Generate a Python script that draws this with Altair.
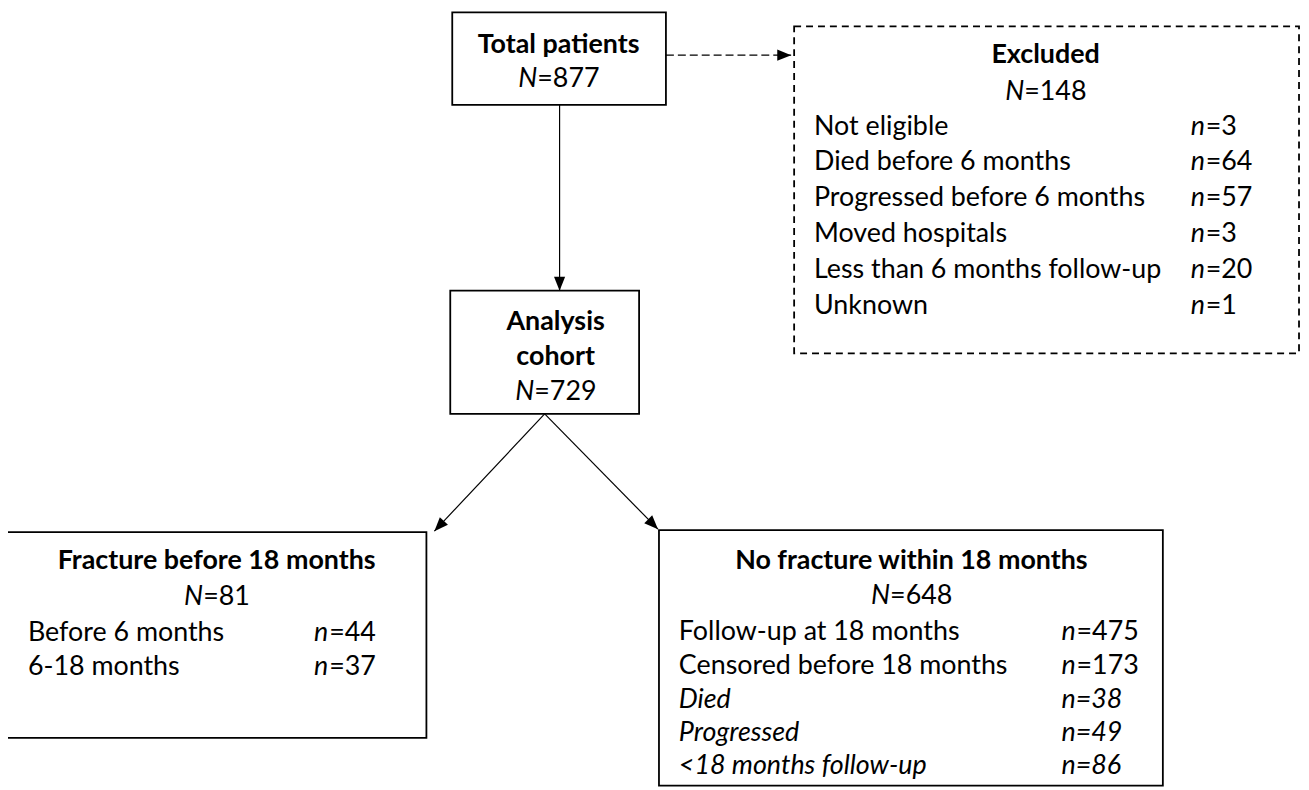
import altair as alt
import pandas as pd
import math

# ---------------- values ----------------
total_label = "Total patients"
total_n = 877

excluded_label = "Excluded"
excluded_n = 148
excluded_reasons = ["Not eligible", "Died before 6 months", "Progressed before 6 months",
                    "Moved hospitals", "Less than 6 months follow-up", "Unknown"]
excluded_counts = [3, 64, 57, 3, 20, 1]

analysis_label = ["Analysis", "cohort"]
analysis_n = 729

fracture_label = "Fracture before 18 months"
fracture_n = 81
fracture_groups = ["Before 6 months", "6-18 months"]
fracture_counts = [44, 37]

nofracture_label = "No fracture within 18 months"
nofracture_n = 648
nofracture_groups = ["Follow-up at 18 months", "Censored before 18 months"]
nofracture_counts = [475, 173]
censored_reasons = ["Died", "Progressed", "<18 months follow-up"]
censored_counts = [38, 49, 86]

# ---------------- layout (page pixel coordinates) ----------------
FONT = "Lato"
FS = 27
BOX = {  # x1, y1, x2, y2
    "total": (455, 10, 670, 103),
    "excluded": (799, 24, 1307, 353),
    "analysis": (453, 290, 643, 414),
    "fracture": (7, 533, 429, 740),
    "nofracture": (663, 531, 1170, 788),
}

CW = {"N": 0.73, "n": 0.56, "=": 0.58}


def w(s):
    return sum(CW.get(c, 0.58) for c in s) * FS


texts = []


def add(x, y, t, kind):
    texts.append({"x": x, "y": y, "text": t, "kind": kind})


def add_N(cx, y, letter, value):
    rest = "=" + str(value)
    split = cx + (w(letter) - w(rest)) / 2
    add(split, y, letter, "ital_r")
    add(split, y, rest, "norm_l")


def add_row(lx, nx, y, label, value, italic=False):
    if italic:
        add(lx, y, label, "ital_l")
        add(nx, y, "n=" + str(value), "ital_l")
    else:
        add(lx, y, label, "norm_l")
        add(nx, y, "n", "ital_l")
        add(nx + w("n"), y, "=" + str(value), "norm_l")


# total
add(562, 43, total_label, "bold_c")
add_N(562, 77, "N", total_n)
# excluded
add(1052, 53, excluded_label, "bold_c")
add_N(1052, 90, "N", excluded_n)
for i, (r, c) in enumerate(zip(excluded_reasons, excluded_counts)):
    add_row(819, 1198, 125 + i * 36, r, c)
# analysis
add(559, 322, analysis_label[0], "bold_c")
add(559, 357, analysis_label[1], "bold_c")
add_N(559, 392, "N", analysis_n)
# fracture
add(218, 562, fracture_label, "bold_c")
add_N(218, 598, "N", fracture_n)
for i, (r, c) in enumerate(zip(fracture_groups, fracture_counts)):
    add_row(28, 316, 635 + i * 34, r, c)
# no fracture
add(917, 562, nofracture_label, "bold_c")
add_N(917, 597, "N", nofracture_n)
for i, (r, c) in enumerate(zip(nofracture_groups, nofracture_counts)):
    add_row(683, 1068, 633 + i * 35, r, c)
for i, (r, c) in enumerate(zip(censored_reasons, censored_counts)):
    add_row(683, 1068, 702 + i * 33, r, c, italic=True)

tdf = pd.DataFrame(texts)

solid_boxes = pd.DataFrame([
    {"x": b[0], "y": b[1], "x2": b[2], "y2": b[3]}
    for k, b in BOX.items() if k != "excluded"])
dashed_boxes = pd.DataFrame([
    {"x": BOX["excluded"][0], "y": BOX["excluded"][1],
     "x2": BOX["excluded"][2], "y2": BOX["excluded"][3]}])

# connectors: start -> tip
solid_links = pd.DataFrame([
    {"x": 563, "y": 103, "x2": 563, "y2": 290},
    {"x": 548, "y": 414, "x2": 437, "y2": 532},
    {"x": 548, "y": 414, "x2": 662, "y2": 530},
])
dashed_links = pd.DataFrame([{"x": 670, "y": 53, "x2": 796, "y2": 53}])
links = pd.concat([solid_links, dashed_links], ignore_index=True)
links["angle"] = [(math.degrees(math.atan2(r.y2 - r.y, r.x2 - r.x)) + 360) % 360
                  for r in links.itertuples()]

xs = alt.Scale(domain=[8, 1309], nice=False, zero=False)
ys = alt.Scale(domain=[8, 790], nice=False, zero=False, reverse=True)


def XY(xf="x", yf="y"):
    return dict(x=alt.X(f"{xf}:Q", scale=xs, axis=None),
                y=alt.Y(f"{yf}:Q", scale=ys, axis=None))


box_solid = alt.Chart(solid_boxes).mark_rect(fill="white", stroke="black", strokeWidth=1.8).encode(
    **XY(), x2="x2:Q", y2="y2:Q")
box_dash = alt.Chart(dashed_boxes).mark_rect(fill="white", stroke="black", strokeWidth=1.8,
                                              strokeDash=[7, 5]).encode(**XY(), x2="x2:Q", y2="y2:Q")
rule_solid = alt.Chart(solid_links).mark_rule(color="black", strokeWidth=1.2).encode(
    **XY(), x2="x2:Q", y2="y2:Q")
rule_dash = alt.Chart(dashed_links).mark_rule(color="black", strokeWidth=1.2, strokeDash=[8, 4]).encode(
    **XY(), x2="x2:Q", y2="y2:Q")
heads = alt.Chart(links).mark_point(shape="M0,0 L-2,-0.8 L-2,0.8 Z", filled=True, size=196,
                                    color="black", opacity=1).encode(
    **XY("x2", "y2"), angle=alt.Angle("angle:Q", scale=None))


def text_layer(kind, **kw):
    return alt.Chart(tdf).transform_filter(alt.datum.kind == kind).mark_text(
        font=FONT, fontSize=FS, color="black", baseline="middle", **kw).encode(
        **XY(), text="text:N")


t_bold = text_layer("bold_c", fontWeight="bold", align="center")
t_ital_r = text_layer("ital_r", fontStyle="italic", align="right")
t_norm_l = text_layer("norm_l", align="left")
t_ital_l = text_layer("ital_l", fontStyle="italic", align="left")

chart = alt.layer(box_solid, box_dash, rule_solid, rule_dash, heads,
                  t_bold, t_ital_r, t_norm_l, t_ital_l).properties(
    width=1301, height=782, padding=0,
    autosize=alt.AutoSizeParams(type="none"),
    background="white",
).configure_view(stroke=None)

chart.save("out.html", embed_options={"renderer": "svg", "actions": False})
